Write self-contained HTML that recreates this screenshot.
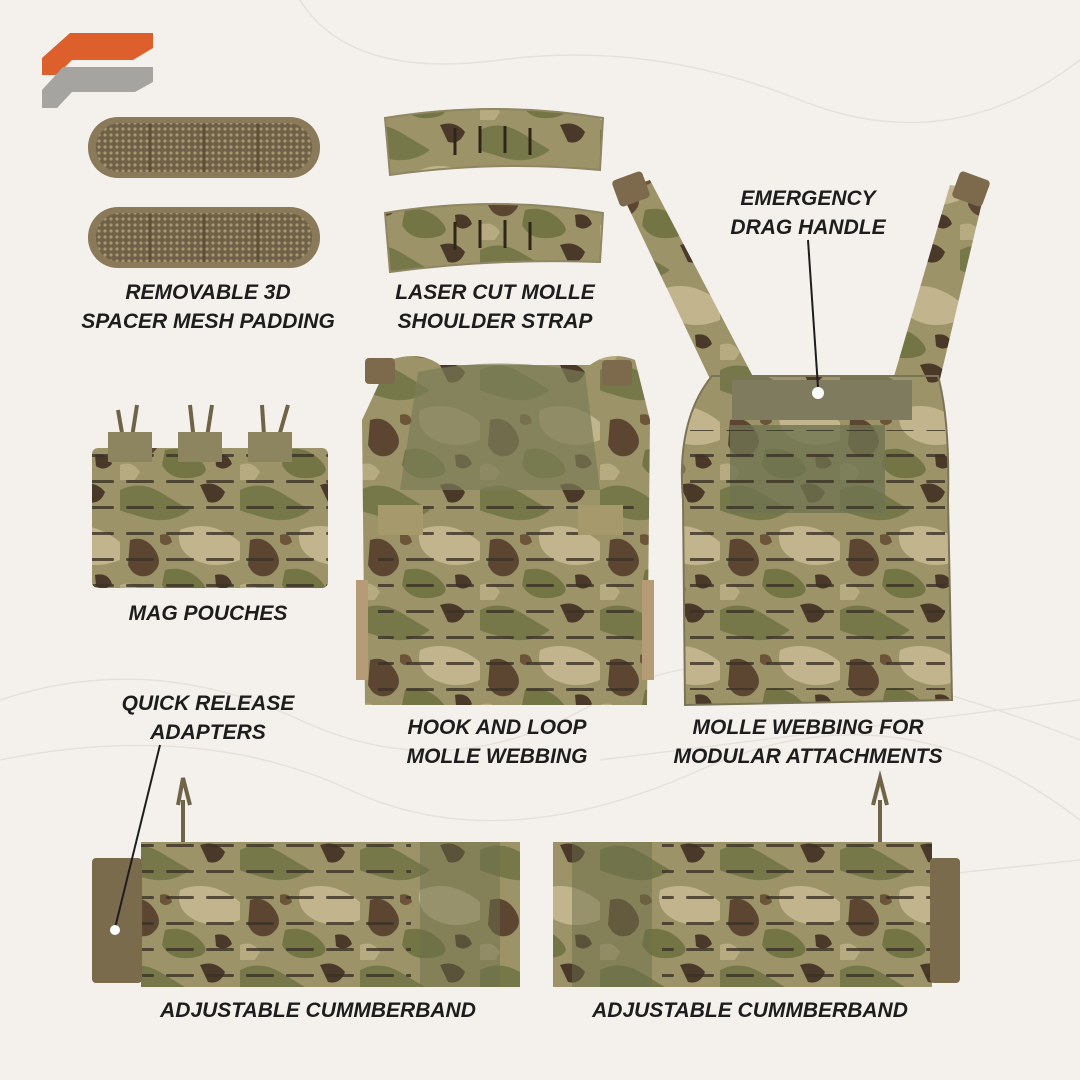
<!DOCTYPE html>
<html><head><meta charset="utf-8"><style>
html,body{margin:0;padding:0}
body{width:1080px;height:1080px;background:#f4f1ed;position:relative;overflow:hidden;font-family:"Liberation Sans",sans-serif}
.l{position:absolute;font-style:italic;font-weight:bold;font-size:21px;color:#1d1d1d;text-align:center;line-height:29px;white-space:nowrap;transform:translateX(-50%);letter-spacing:0}
svg{position:absolute;left:0;top:0}
</style></head><body>
<svg width="1080" height="1080" viewBox="0 0 1080 1080">
<defs>
<pattern id="camo" width="120" height="120" patternUnits="userSpaceOnUse">
<rect width="120" height="120" fill="#9c9468"/>
<path d="M0 10 Q20 0 40 12 T70 30 Q50 45 25 38 T0 30Z" fill="#76784a"/>
<path d="M60 50 Q85 40 110 55 T120 80 Q95 90 75 80 T60 50Z" fill="#c2b58e"/>
<path d="M10 60 Q25 55 35 70 T30 95 Q15 100 8 85Z" fill="#5c4632"/>
<path d="M80 5 Q95 0 105 12 Q100 25 88 22Z" fill="#4a3828"/>
<path d="M45 90 Q65 85 80 100 T70 118 Q50 120 42 105Z" fill="#737545"/>
<path d="M95 95 Q108 92 112 104 Q104 112 96 106Z" fill="#4a3828"/>
<path d="M40 55 Q50 52 52 62 Q45 68 40 62Z" fill="#6b5438"/>
<path d="M0 105 Q12 100 20 112 L15 120 L0 120Z" fill="#b7ab82"/>
</pattern>
<pattern id="mesh" width="6" height="6" patternUnits="userSpaceOnUse">
<rect width="6" height="6" fill="#6f6147"/><circle cx="3" cy="3" r="1.6" fill="#a8966e"/>
</pattern>
<pattern id="slots" width="40" height="26" patternUnits="userSpaceOnUse">
<rect x="6" y="12" width="28" height="3" rx="1.5" fill="#3b3224" opacity="0.8"/>
</pattern>
</defs>
<g fill="none" stroke="#e6e1da" stroke-width="1.5">
<path d="M0 700 Q150 650 300 720 T600 700 T1080 740"/>
<path d="M0 760 Q200 720 350 790 T700 770 T1080 820"/>
<path d="M300 0 Q350 80 500 60 T800 100 T1080 60"/>
<path d="M600 760 L1080 700 M700 900 L1080 860"/>
</g>
<polygon points="70,33 153,33 153,48 133,60 72,60 57,75 42,75 42,58" fill="#dc5f2c"/>
<polygon points="63,67 153,67 153,82 135,92 72,92 57,108 42,108 42,90" fill="#a6a4a1"/>
<rect x="88" y="117" width="232" height="61" rx="30" fill="#8a7a5a"/>
<rect x="96" y="123" width="216" height="49" rx="24" fill="url(#mesh)"/>
<g stroke="#5d5039" stroke-width="3"><line x1="150" y1="124" x2="150" y2="172"/><line x1="204" y1="124" x2="204" y2="172"/><line x1="258" y1="124" x2="258" y2="172"/></g>
<rect x="88" y="207" width="232" height="61" rx="30" fill="#8a7a5a"/>
<rect x="96" y="213" width="216" height="49" rx="24" fill="url(#mesh)"/>
<g stroke="#5d5039" stroke-width="3"><line x1="150" y1="214" x2="150" y2="262"/><line x1="204" y1="214" x2="204" y2="262"/><line x1="258" y1="214" x2="258" y2="262"/></g>
<path d="M385 118 Q495 100 603 118 L600 170 Q495 160 390 175Z" fill="url(#camo)" stroke="#8f8663" stroke-width="2"/>
<path d="M385 213 Q495 195 603 213 L600 262 Q495 258 390 272Z" fill="url(#camo)" stroke="#8f8663" stroke-width="2"/>
<g stroke="#2f2619" stroke-width="3"><line x1="455" y1="128" x2="455" y2="155"/><line x1="480" y1="126" x2="480" y2="153"/><line x1="505" y1="126" x2="505" y2="153"/><line x1="530" y1="128" x2="530" y2="155"/>
<line x1="455" y1="222" x2="455" y2="250"/><line x1="480" y1="220" x2="480" y2="248"/><line x1="505" y1="220" x2="505" y2="248"/><line x1="530" y1="222" x2="530" y2="250"/></g>
<g stroke="#6f6447" stroke-width="4" fill="none"><path d="M125 450 L118 410 M130 450 L137 405 M195 450 L190 405 M205 450 L212 405 M265 450 L262 405 M275 450 L288 405"/></g>
<rect x="92" y="448" width="236" height="140" rx="6" fill="url(#camo)"/>
<rect x="92" y="448" width="236" height="140" rx="6" fill="url(#slots)"/>
<rect x="108" y="432" width="44" height="30" fill="#8d8460"/><rect x="178" y="432" width="44" height="30" fill="#8d8460"/><rect x="248" y="432" width="44" height="30" fill="#8d8460"/>
<polygon points="620,190 650,180 760,390 720,400" fill="url(#camo)"/>
<polygon points="950,185 985,190 935,400 890,390" fill="url(#camo)"/>
<rect x="615" y="175" width="32" height="28" rx="4" fill="#7d6a4d" transform="rotate(-20 631 189)"/>
<rect x="955" y="175" width="32" height="28" rx="4" fill="#7d6a4d" transform="rotate(20 971 189)"/>
<path d="M712 376 L938 376 Q950 420 948 500 L952 700 L685 705 L683 500 Q676 420 712 376Z" fill="url(#camo)" stroke="#7c7456" stroke-width="2"/>
<rect x="732" y="380" width="180" height="40" fill="#7f7b5f"/>
<circle cx="818" cy="393" r="6" fill="#fff"/>
<rect x="730" y="425" width="155" height="88" fill="#6f7451" opacity="0.8"/>
<rect x="690" y="430" width="255" height="260" fill="url(#slots)"/>
<path d="M390 360 Q420 350 440 365 L590 365 Q610 350 635 360 L650 420 L647 705 L365 705 L362 420Z" fill="url(#camo)"/>
<path d="M418 372 Q500 355 585 372 L600 490 L400 490Z" fill="#7b7c55" opacity="0.7"/>
<rect x="378" y="490" width="265" height="215" fill="url(#slots)"/>
<rect x="378" y="505" width="45" height="30" fill="#a69a6c"/><rect x="578" y="505" width="45" height="30" fill="#a69a6c"/>
<rect x="365" y="358" width="30" height="26" rx="4" fill="#7d6a4d"/><rect x="602" y="360" width="30" height="26" rx="4" fill="#7d6a4d"/>
<rect x="356" y="580" width="12" height="100" fill="#b59b76"/><rect x="642" y="580" width="12" height="100" fill="#b59b76"/>
<rect x="141" y="842" width="379" height="145" fill="url(#camo)"/>
<rect x="141" y="842" width="270" height="145" fill="url(#slots)"/>
<rect x="420" y="842" width="80" height="145" fill="#6b6d49" opacity="0.5"/>
<rect x="92" y="858" width="50" height="125" rx="4" fill="#7a6b4c"/>
<path d="M183 842 L183 800 M178 805 L183 778 L190 805" stroke="#6f6447" stroke-width="4" fill="none"/>
<rect x="553" y="842" width="379" height="145" fill="url(#camo)"/>
<rect x="662" y="842" width="270" height="145" fill="url(#slots)"/>
<rect x="572" y="842" width="80" height="145" fill="#6b6d49" opacity="0.5"/>
<rect x="930" y="858" width="30" height="125" rx="4" fill="#7a6b4c"/>
<path d="M880 842 L880 800 M873 805 L880 778 L887 805" stroke="#6f6447" stroke-width="4" fill="none"/>
<line x1="808" y1="240" x2="818" y2="387" stroke="#1d1d1d" stroke-width="2"/>
<line x1="160" y1="745" x2="115" y2="928" stroke="#1d1d1d" stroke-width="2"/>
<circle cx="115" cy="930" r="5" fill="#fff"/>
</svg>
<div class="l" style="left:208px;top:278px">REMOVABLE 3D<br>SPACER MESH PADDING</div>
<div class="l" style="left:495px;top:278px">LASER CUT MOLLE<br>SHOULDER STRAP</div>
<div class="l" style="left:808px;top:184px">EMERGENCY<br>DRAG HANDLE</div>
<div class="l" style="left:208px;top:599px">MAG POUCHES</div>
<div class="l" style="left:208px;top:689px">QUICK RELEASE<br>ADAPTERS</div>
<div class="l" style="left:497px;top:713px">HOOK AND LOOP<br>MOLLE WEBBING</div>
<div class="l" style="left:808px;top:713px">MOLLE WEBBING FOR<br>MODULAR ATTACHMENTS</div>
<div class="l" style="left:318px;top:996px">ADJUSTABLE CUMMBERBAND</div>
<div class="l" style="left:750px;top:996px">ADJUSTABLE CUMMBERBAND</div>
</body></html>
